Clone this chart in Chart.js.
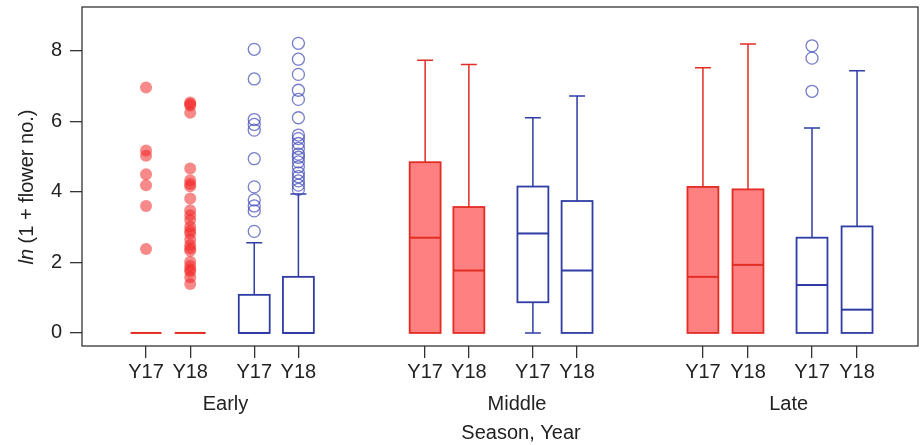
<!DOCTYPE html>
<html>
<head>
<meta charset="utf-8">
<script src="https://cdn.jsdelivr.net/npm/chart.js@4.4.0/dist/chart.umd.min.js"></script>
<style>
  html, body { margin: 0; padding: 0; background: #fff; }
</style>
</head>
<body>
<canvas id="flowerChart" width="920" height="445"></canvas>
<script>
    // groups along the x axis
    const seasons = ["Early", "Middle", "Late"];
    const yearLabels = ["Y17", "Y18", "Y17", "Y18", "Y17", "Y18", "Y17", "Y18", "Y17", "Y18", "Y17", "Y18"];
    // box order inside each season: red Y17, red Y18, blue Y17, blue Y18
    const filledBox = [true, true, false, false, true, true, false, false, true, true, false, false];
    const slots = [1, 2, 3.45, 4.45, 7.32, 8.31, 9.76, 10.76, 13.61, 14.63, 16.08, 17.1];
    const seasonSlots = [2.8, 9.4, 15.55];
    const yTicks = [0, 2, 4, 6, 8];

    // box statistics, ln(1 + flower no.)
    const whiskerLow = [0, 0, 0, 0, 0, 0, 0, 0, 0, 0, 0, 0];
    const q1 = [0, 0, 0, 0, 0, 0, 0.87, 0, 0, 0, 0, 0];
    const median = [0, 0, 0, 0, 2.70, 1.77, 2.82, 1.77, 1.59, 1.93, 1.36, 0.66];
    const q3 = [0, 0, 1.08, 1.59, 4.84, 3.57, 4.15, 3.74, 4.14, 4.07, 2.70, 3.02];
    const whiskerHigh = [0, 0, 2.56, 3.94, 7.73, 7.61, 6.10, 6.72, 7.52, 8.19, 5.81, 7.43];
    const outliers = [
        [6.96, 5.17, 5.02, 4.5, 4.19, 3.6, 2.38],
        [6.53, 6.49, 6.45, 6.24, 4.66, 4.33, 4.22, 4.16, 3.81, 3.48, 3.34, 3.2, 3.01, 2.9, 2.82,
         2.65, 2.49, 2.4, 2.33, 2.02, 1.9, 1.8, 1.74, 1.58, 1.39],
        [8.04, 7.2, 6.05, 5.91, 5.75, 4.94, 4.14, 3.77, 3.6, 3.46, 2.88],
        [8.21, 7.76, 7.33, 6.88, 6.62, 6.1, 5.61, 5.51, 5.37, 5.23, 5.07, 4.98, 4.85, 4.71,
         4.54, 4.43, 4.31, 4.19, 4.07],
        [], [], [], [],
        [], [], [8.14, 7.79, 6.85], []
    ];

    const RED = "rgb(226, 44, 36)";
    const RED_FILL = "rgb(255, 128, 128)";
    const BLUE = "rgb(46, 60, 164)";
    const FONT = "'Liberation Sans', Arial, sans-serif";

    function outlierPoints(wantFilled) {
        const pts = [];
        outliers.forEach((vals, i) => {
            if (filledBox[i] !== wantFilled) return;
            vals.forEach(v => pts.push({ x: slots[i], y: v }));
        });
        return pts;
    }

    const boxPlot = {
        id: "boxPlot",
        beforeDatasetsDraw(chart) {
            const ctx = chart.ctx;
            const xs = chart.scales.x, ys = chart.scales.y;
            ctx.save();
            for (let i = 0; i < slots.length; i++) {
                const cx = xs.getPixelForValue(slots[i]);
                const half = xs.getPixelForValue(slots[i] + 0.35) - cx;
                const cap = xs.getPixelForValue(slots[i] + 0.18) - cx;
                const top = ys.getPixelForValue(q3[i]);
                const bot = ys.getPixelForValue(q1[i]);
                const col = filledBox[i] ? RED : BLUE;
                ctx.strokeStyle = col;

                // whiskers
                ctx.lineWidth = 1.5;
                ctx.beginPath();
                const hi = ys.getPixelForValue(whiskerHigh[i]);
                const lo = ys.getPixelForValue(whiskerLow[i]);
                if (whiskerHigh[i] > q3[i]) {
                    ctx.moveTo(cx, top); ctx.lineTo(cx, hi);
                    ctx.moveTo(cx - cap, hi); ctx.lineTo(cx + cap, hi);
                }
                if (whiskerLow[i] < q1[i]) {
                    ctx.moveTo(cx, bot); ctx.lineTo(cx, lo);
                    ctx.moveTo(cx - cap, lo); ctx.lineTo(cx + cap, lo);
                }
                ctx.stroke();

                // box
                ctx.lineWidth = 1.8;
                if (filledBox[i] && bot > top) {
                    ctx.fillStyle = RED_FILL;
                    ctx.fillRect(cx - half, top, half * 2, bot - top);
                }
                if (bot > top) {
                    ctx.strokeRect(cx - half, top, half * 2, bot - top);
                }
                // median
                ctx.lineWidth = 2;
                const m = ys.getPixelForValue(median[i]);
                ctx.beginPath();
                ctx.moveTo(cx - half, m); ctx.lineTo(cx + half, m);
                ctx.stroke();
            }
            ctx.restore();
        },
        afterDraw(chart) {
            const ctx = chart.ctx;
            const a = chart.chartArea;
            ctx.save();
            ctx.strokeStyle = "#333";
            ctx.lineWidth = 1.3;
            ctx.strokeRect(a.left, a.top, a.right - a.left, a.bottom - a.top);

            // y title with italic "ln"
            ctx.fillStyle = "#222";
            ctx.textBaseline = "middle";
            ctx.translate(27, 187);
            ctx.rotate(-Math.PI / 2);
            const part1 = "ln", part2 = " (1 + flower no.)";
            ctx.font = "italic 20px " + FONT;
            const w1 = ctx.measureText(part1).width;
            ctx.font = "20px " + FONT;
            const w2 = ctx.measureText(part2).width;
            const start = -(w1 + w2) / 2;
            ctx.textAlign = "left";
            ctx.font = "italic 20px " + FONT;
            ctx.fillText(part1, start, 0);
            ctx.font = "20px " + FONT;
            ctx.fillText(part2, start + w1, 0);
            ctx.restore();

            // x title
            ctx.save();
            ctx.fillStyle = "#222";
            ctx.font = "20px " + FONT;
            ctx.textAlign = "center";
            ctx.textBaseline = "middle";
            ctx.fillText("Season, Year", 521, 433);
            ctx.restore();
        }
    };

    function noEdgePadding(s) {
        s.paddingLeft = 0;
        s.paddingRight = 0;
        s.paddingTop = 0;
        s.paddingBottom = 0;
    }

    Chart.defaults.font.family = FONT;
    Chart.defaults.font.size = 20;
    Chart.defaults.color = "#222";

    const ctx = document.getElementById("flowerChart").getContext("2d");

    new Chart(ctx, {
        type: "scatter",
        data: {
            datasets: [
                {
                    label: "red outliers",
                    data: outlierPoints(true),
                    backgroundColor: "rgba(243, 40, 40, 0.55)",
                    borderWidth: 0,
                    pointRadius: 6,
                },
                {
                    label: "blue outliers",
                    data: outlierPoints(false),
                    backgroundColor: "rgba(0, 0, 0, 0)",
                    borderColor: "rgba(60, 70, 180, 0.7)",
                    borderWidth: 1.3,
                    pointRadius: 6,
                },
            ],
        },
        options: {
            responsive: false,
            animation: false,
            events: [],
            layout: { autoPadding: false, padding: { top: 7, right: 2, left: 0, bottom: 0 } },
            plugins: { legend: { display: false }, tooltip: { enabled: false } },
            scales: {
                x: {
                    type: "linear",
                    min: -0.45,
                    max: 18.48,
                    position: "bottom",
                    weight: 0,
                    border: { display: false },
                    grid: { drawOnChartArea: false, drawTicks: true, tickLength: 12, color: "#333", lineWidth: 1.3 },
                    ticks: {
                        autoSkip: false,
                        maxRotation: 0,
                        padding: 2,
                        callback: (v, i) => yearLabels[i],
                    },
                    afterBuildTicks: s => { s.ticks = slots.map(v => ({ value: v })); },
                    afterFit: s => { s.height = 36; noEdgePadding(s); },
                },
                season: {
                    type: "linear",
                    axis: "x",
                    min: -0.45,
                    max: 18.48,
                    position: "bottom",
                    weight: 1,
                    border: { display: false },
                    grid: { display: false },
                    ticks: {
                        autoSkip: false,
                        maxRotation: 0,
                        padding: 2,
                        callback: (v, i) => seasons[i],
                    },
                    afterBuildTicks: s => { s.ticks = seasonSlots.map(v => ({ value: v })); },
                    afterFit: s => { s.height = 63; noEdgePadding(s); },
                },
                y: {
                    min: -0.37,
                    max: 9.24,
                    border: { display: false },
                    grid: { drawOnChartArea: false, drawTicks: true, tickLength: 12, color: "#333", lineWidth: 1.3 },
                    ticks: { padding: 8 },
                    afterBuildTicks: s => { s.ticks = yTicks.map(v => ({ value: v })); },
                    afterFit: s => { s.width = 82; noEdgePadding(s); },
                },
            },
        },
        plugins: [boxPlot],
    });
</script>
</body>
</html>
